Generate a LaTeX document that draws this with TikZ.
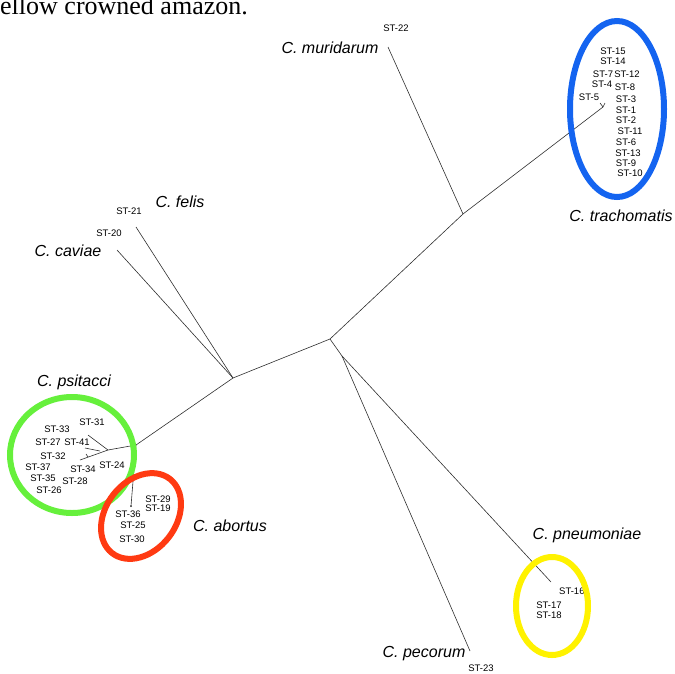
\documentclass[tikz,border=0pt]{standalone}
\usepackage{fontspec}
\setmainfont{Liberation Serif}
\setsansfont{Liberation Sans}
\usetikzlibrary{positioning}
\definecolor{ringblue}{HTML}{1464F0}
\definecolor{ringgreen}{HTML}{66F03C}
\definecolor{ringred}{HTML}{FF3A12}
\definecolor{ringyellow}{HTML}{FFF200}
\definecolor{twig}{HTML}{2E2E2E}

\begin{document}
\begin{tikzpicture}[
  x=1pt, y=-1pt,
  font=\sffamily,
  branch/.style={draw=twig, line width=0.6pt},
  st/.style={font=\sffamily\fontsize{9.5}{10}\selectfont, inner sep=0pt},
  species/.style={font=\sffamily\itshape\fontsize{16}{17}\selectfont, inner sep=0pt},
  ring/.style={line width=6pt}
]
  \useasboundingbox (0,0) rectangle (675,673);
  \node[anchor=base west, font=\rmfamily\fontsize{26}{27}\selectfont, inner sep=0pt] (caption) at (-13,14) {yellow crowned amazon.};

  % tree joints and tips
  \coordinate (hub) at (330,339);
  \coordinate (murjoin) at (463,214);
  \coordinate (trajoin) at (603,107);
  \coordinate (murtip) at (388,47);
  \coordinate (felcav) at (233,378);
  \coordinate (feltip) at (136,227);
  \coordinate (cavtip) at (117,250);
  \coordinate (psijoin) at (136,445);
  \coordinate (abotip) at (131,506);
  \coordinate (psisub) at (108,450);
  \coordinate (psiA) at (88,435);
  \coordinate (psiBroot) at (100,451);
  \coordinate (psiB) at (85,448);
  \coordinate (psiC) at (80,460);
  \coordinate (pecjoin) at (342,356);
  \coordinate (pnetip) at (551,582);
  \coordinate (pectip) at (470,651);

  \draw[branch] (hub) -- (murjoin) -- (trajoin);
  \draw[branch] (murjoin) -- (murtip);
  \draw[branch] (trajoin) -- ++(-3,-4);
  \draw[branch] (trajoin) -- ++(2,-4);
  \draw[branch] (hub) -- (felcav) -- (psijoin) -- (abotip);
  \draw[branch] (felcav) -- (feltip);
  \draw[branch] (felcav) -- (cavtip);
  \draw[branch] (psijoin) -- (psisub) -- (psiA);
  \draw[branch] (psiBroot) -- (psiB);
  \draw[branch] (psisub) -- (psiC);
  \draw[branch] (88,457) -- ++(-2,-3);
  \fill[twig] (abotip) circle (1pt);
  \draw[branch] (hub) -- (pecjoin) -- (pnetip);
  \draw[branch] (pecjoin) -- (pectip);

  % C. trachomatis
  \node[st] (st15) at (613,51) {ST-15};
  \node[st] (st14) at (613,61) {ST-14};
  \node[st] (st7) at (603,74) {ST-7};
  \node[st] (st12) at (627,74) {ST-12};
  \node[st] (st4) at (602,84) {ST-4};
  \node[st] (st8) at (625,87) {ST-8};
  \node[st] (st5) at (589,97) {ST-5};
  \node[st] (st3) at (626,99) {ST-3};
  \node[st] (st1) at (626,110) {ST-1};
  \node[st] (st2) at (626,120) {ST-2};
  \node[st] (st11) at (630,131) {ST-11};
  \node[st] (st6) at (626,142) {ST-6};
  \node[st] (st13) at (628,153) {ST-13};
  \node[st] (st9) at (626,163) {ST-9};
  \node[st] (st10) at (630,173) {ST-10};
  \draw[ring, ringblue] (617,109) ellipse (47 and 88);
  \node[species] (trachomatis) at (621,216) {C. trachomatis};

  % C. muridarum
  \node[st] (st22) at (396,28) {ST-22};
  \node[species] (muridarum) at (330,48) {C. muridarum};

  % C. felis and C. caviae
  \node[st] (st21) at (129,211) {ST-21};
  \node[st] (st20) at (109,233) {ST-20};
  \node[species] (felis) at (180,202) {C. felis};
  \node[species] (caviae) at (68,251) {C. caviae};

  % C. psitacci
  \node[species] (psitacci) at (74,382) {C. psitacci};
  \node[st] (st31) at (92,422) {ST-31};
  \node[st] (st33) at (57,429) {ST-33};
  \node[st] (st27) at (48,442) {ST-27};
  \node[st] (st41) at (77,442) {ST-41};
  \node[st] (st32) at (53,456) {ST-32};
  \node[st] (st37) at (38,467) {ST-37};
  \node[st] (st34) at (83,469) {ST-34};
  \node[st] (st24) at (112,465) {ST-24};
  \node[st] (st35) at (43,478) {ST-35};
  \node[st] (st28) at (75,481) {ST-28};
  \node[st] (st26) at (49,490) {ST-26};
  \draw[ring, ringgreen] (72,455) ellipse (62 and 58);

  % C. abortus
  \node[st] (st29) at (158,499) {ST-29};
  \node[st] (st19) at (158,508) {ST-19};
  \node[st] (st36) at (128,514) {ST-36};
  \node[st] (st25) at (133,525) {ST-25};
  \node[st] (st30) at (132,539) {ST-30};
  \draw[ring, ringred, rotate around={52:(141,516)}] (141,516) ellipse (47 and 35);
  \node[species] (abortus) at (230,526) {C. abortus};

  % C. pneumoniae
  \node[species] (pneumoniae) at (587,535) {C. pneumoniae};
  \node[st, anchor=west] (st16) at (559,591) {ST-16};
  \node[st] (st17) at (549,605) {ST-17};
  \node[st] (st18) at (549,615) {ST-18};
  \draw[ring, ringyellow] (552,606) ellipse (36 and 49);

  % C. pecorum
  \node[species] (pecorum) at (424,654) {C. pecorum};
  \node[st] (st23) at (481,668) {ST-23};
\end{tikzpicture}
\end{document}
